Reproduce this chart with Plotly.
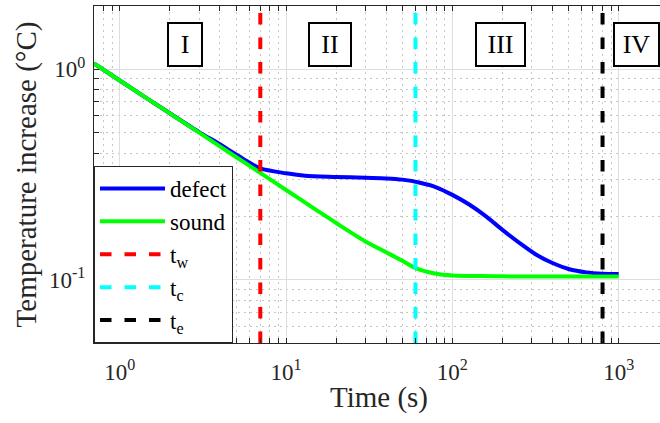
import plotly.graph_objects as go
import math

# ---- data ----
time_sound = [0.7, 1, 2, 3, 5, 7, 10, 15, 20, 30, 40, 50, 60, 80, 100, 150, 200, 300, 500, 1000]
sound = [1.066, 0.885, 0.617, 0.500, 0.383, 0.322, 0.267, 0.216, 0.186, 0.152, 0.135, 0.123, 0.1135,
         0.1068, 0.1048, 0.1040, 0.1037, 0.1036, 0.1036, 0.1036]

time_defect = [0.7, 1, 2, 3, 4, 4.6, 5.5, 7, 10, 13, 20, 30, 40, 50, 64, 80, 100, 127, 160, 200,
               254, 320, 400, 500, 640, 800, 1000]
defect = [1.066, 0.885, 0.618, 0.503, 0.440, 0.410, 0.376, 0.338, 0.3205, 0.312, 0.308, 0.305, 0.303,
          0.299, 0.289, 0.275, 0.253, 0.227, 0.1995, 0.1726, 0.1493, 0.1314, 0.120, 0.1124, 0.1083,
          0.1068, 0.1064]

t_w = 7
t_c = 60
t_e = 800
marker_names = ["t<sub>w</sub>", "t<sub>c</sub>", "t<sub>e</sub>"]
marker_times = [t_w, t_c, t_e]
marker_colors = ["#ff0000", "#00ffff", "#000000"]

region_labels = ["I", "II", "III", "IV"]
region_x = [2.46, 18.3, 194, 1280]
region_y = 1.31
region_w = [32, 40, 47, 43]

x_ticks = [1, 10, 100, 1000]
x_ticktext = ["10<sup>0</sup>", "10<sup>1</sup>", "10<sup>2</sup>", "10<sup>3</sup>"]
y_ticks = [0.1, 1]
y_ticktext = ["10<sup>-1</sup>", "10<sup>0</sup>"]

x_min, y_min, y_max = 0.7, 0.05, 2.0

FONT = "Liberation Serif, Times New Roman, serif"
W, H = 660, 423
ml, mt, mb = 94, 6, 80
plot_w = W - ml
dec_px = 166.3
x_range = [math.log10(x_min), math.log10(x_min) + (plot_w + 4) / dec_px]

fig = go.Figure()
fig.add_trace(go.Scatter(x=time_defect, y=defect, mode="lines", name="defect",
                         line=dict(color="#0000ff", width=4, shape="spline", smoothing=0.8)))
fig.add_trace(go.Scatter(x=time_sound, y=sound, mode="lines", name="sound",
                         line=dict(color="#00ff00", width=4, shape="spline", smoothing=0.8)))
for nm, tv, col in zip(marker_names, marker_times, marker_colors):
    fig.add_trace(go.Scatter(x=[tv, tv], y=[y_min, y_max], mode="lines", name=nm,
                             line=dict(color=col, width=4, dash="11.5px,13px")))

for lab, xv, wv in zip(region_labels, region_x, region_w):
    fig.add_annotation(x=math.log10(xv), y=math.log10(region_y), xref="x", yref="y",
                       text=lab, showarrow=False, width=wv, height=41,
                       font=dict(family=FONT, size=26, color="black"),
                       bordercolor="black", borderwidth=2, borderpad=0, bgcolor="white")

axis_common = dict(
    type="log", showline=True, linecolor="#262626", linewidth=1.2,
    ticks="inside", ticklen=5, tickcolor="#262626", tickwidth=1,
    showgrid=True, gridcolor="#dedede", gridwidth=1,
    zeroline=False, automargin=False,
    tickfont=dict(family=FONT, size=23, color="#262626"),
    minor=dict(dtick="D1", ticks="inside", ticklen=5, tickcolor="#262626", tickwidth=1,
               showgrid=True, gridcolor="#c6c6c6", gridwidth=1, griddash="1.5px,4.5px"),
)

fig.update_layout(
    width=W + 4, height=H,
    margin=dict(l=ml, r=0, t=mt, b=mb, autoexpand=False),
    paper_bgcolor="white", plot_bgcolor="white",
    font=dict(family=FONT, color="#262626"),
    xaxis=dict(axis_common, range=x_range, tickvals=x_ticks, ticktext=x_ticktext, mirror="ticks",
               ticklabelstandoff=8,
               title=dict(text="Time (s)", font=dict(family=FONT, size=29, color="#262626"), standoff=2)),
    yaxis=dict(axis_common, range=[math.log10(y_min), math.log10(y_max)], tickvals=y_ticks,
               ticktext=y_ticktext, mirror=False, ticklabelstandoff=3,
               title=dict(text="Temperature increase (°C)", font=dict(family=FONT, size=29, color="#262626"),
                          standoff=3)),
    legend=dict(x=0, y=0, xanchor="left", yanchor="bottom", bgcolor="white",
                bordercolor="#262626", borderwidth=1, itemwidth=65,
                font=dict(family=FONT, size=23, color="black"), tracegroupgap=0),
    showlegend=True,
)

fig.write_html("out.html", config={"displayModeBar": False},
               post_script="document.body.style.margin='0';document.body.style.overflow='hidden';")
